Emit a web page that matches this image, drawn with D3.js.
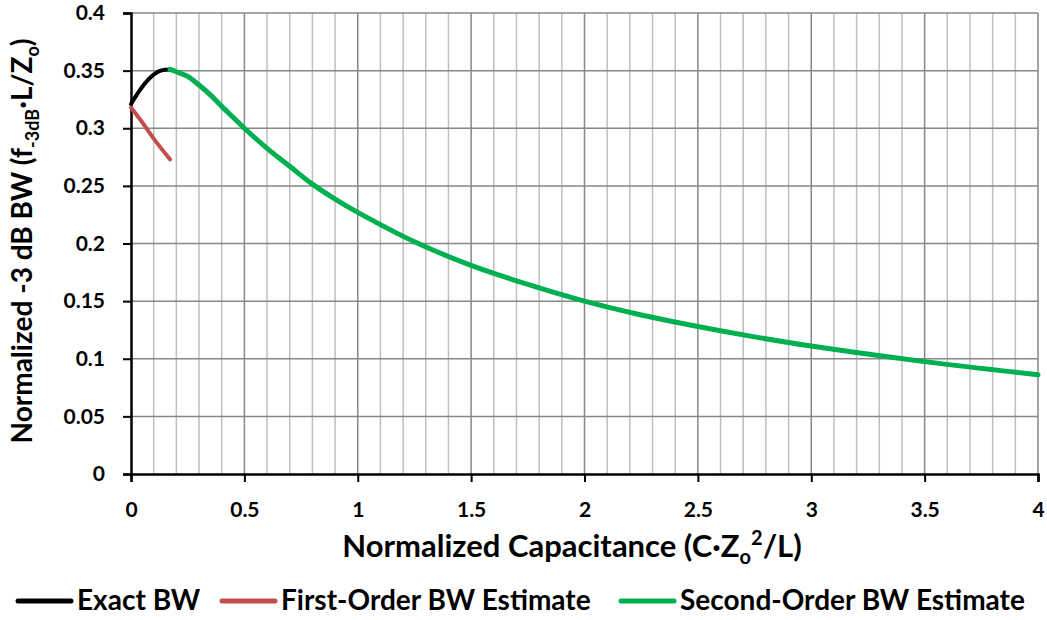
<!DOCTYPE html>
<html>
<head>
<meta charset="utf-8">
<script src="https://cdn.jsdelivr.net/npm/d3@7"></script>
<style>
  body { margin: 0; background: #fff; }
  svg { display: block; font-family: Lato, "Open Sans", sans-serif; font-weight: bold; }
</style>
</head>
<body>
<svg width="1047" height="620"></svg>
<script>
// values
const exactX = [0, 0.025, 0.05, 0.075, 0.1, 0.125, 0.15, 0.172];
const exactY = [0.321, 0.329, 0.336, 0.342, 0.3465, 0.3495, 0.3507, 0.351];

const firstX = [0, 0.05, 0.1, 0.172];
const firstY = [0.318, 0.305, 0.291, 0.273];

const secondX = [0.172, 0.2, 0.25, 0.3, 0.35, 0.4, 0.45, 0.5, 0.6, 0.7, 0.8, 0.9, 1.0, 1.25, 1.5, 1.75, 2.0, 2.25, 2.5, 2.75, 3.0, 3.5, 4.0];
const secondY = [0.351, 0.349, 0.345, 0.3375, 0.329, 0.319, 0.3095, 0.300, 0.2826, 0.267, 0.2515, 0.2385, 0.227, 0.2015, 0.181, 0.1645, 0.150, 0.138, 0.128, 0.119, 0.111, 0.0975, 0.0862];

const xTicks = [0, 0.5, 1, 1.5, 2, 2.5, 3, 3.5, 4];
const yTicks = [0, 0.05, 0.1, 0.15, 0.2, 0.25, 0.3, 0.35, 0.4];

const series = [
  {name: 'Exact BW', xs: exactX, ys: exactY, color: '#000000', width: 4},
  {name: 'First-Order BW Estimate', xs: firstX, ys: firstY, color: '#C0504D', width: 4},
  {name: 'Second-Order BW Estimate', xs: secondX, ys: secondY, color: '#00B050', width: 5},
];

const svg = d3.select('svg');
const plotL = 131, plotR = 1038, plotT = 13, plotB = 474;

const x = d3.scaleLinear().domain([0, 4]).range([plotL, plotR]);
const y = d3.scaleLinear().domain([0, 0.4]).range([plotB, plotT]);

// minor vertical grid every 0.1
const minor = d3.range(1, 40).map((i) => i / 10).filter((v) => Math.round(v * 10) % 5 !== 0);
svg.append('g')
  .selectAll('line')
  .data(minor)
  .enter()
  .append('line')
  .attr('x1', (d) => x(d)).attr('x2', (d) => x(d))
  .attr('y1', plotT).attr('y2', plotB)
  .style('stroke', '#BFBFBF')
  .style('stroke-width', 1.5);

// major grid
svg.append('g')
  .selectAll('line')
  .data(xTicks.slice(1))
  .enter()
  .append('line')
  .attr('x1', (d) => x(d)).attr('x2', (d) => x(d))
  .attr('y1', plotT).attr('y2', plotB)
  .style('stroke', '#878787')
  .style('stroke-width', 1.5);

svg.append('g')
  .selectAll('line')
  .data(yTicks.slice(1))
  .enter()
  .append('line')
  .attr('x1', plotL).attr('x2', plotR)
  .attr('y1', (d) => y(d)).attr('y2', (d) => y(d))
  .style('stroke', '#878787')
  .style('stroke-width', 1.5);

// axes
const xAxis = svg.append('g')
  .attr('transform', `translate(0,${plotB})`)
  .call(d3.axisBottom(x).tickValues(xTicks).tickSize(8).tickPadding(20).tickFormat(d3.format('')));
const yAxis = svg.append('g')
  .attr('transform', `translate(${plotL},0)`)
  .call(d3.axisLeft(y).tickValues(yTicks).tickSize(8).tickPadding(18).tickFormat(d3.format('')));

[xAxis, yAxis].forEach((a) => {
  a.select('.domain').style('stroke', '#000').style('stroke-width', 2.5);
  a.selectAll('.tick line').style('stroke', '#000').style('stroke-width', 2);
  a.selectAll('.tick text')
    .style('font-family', 'Lato, sans-serif')
    .style('font-weight', 'bold')
    .style('font-size', '21px')
    .style('fill', '#000');
});

// lines
const line = d3.line().curve(d3.curveCatmullRom.alpha(0.5));
series.forEach((s) => {
  const pts = s.xs.map((v, i) => [x(v), y(s.ys[i])]);
  svg.append('path')
    .attr('d', line(pts))
    .style('fill', 'none')
    .style('stroke', s.color)
    .style('stroke-width', s.width)
    .style('stroke-linecap', 'round');
});

// axis titles
const xt = svg.append('text')
  .attr('x', 572).attr('y', 557)
  .attr('text-anchor', 'middle')
  .style('font-size', '31px');
xt.append('tspan').text('Normalized Capacitance (C·Z');
xt.append('tspan').text('o').attr('dy', 7).style('font-size', '20px');
xt.append('tspan').text('2').attr('dy', -19).style('font-size', '20px');
xt.append('tspan').text('/L)').attr('dy', 12);

const yt = svg.append('text')
  .attr('transform', 'translate(32,241) rotate(-90)')
  .attr('text-anchor', 'middle')
  .style('font-size', '28px');
yt.append('tspan').text('Normalized -3 dB BW (f');
yt.append('tspan').text('-3dB').attr('dy', 7).style('font-size', '18px');
yt.append('tspan').text('·L/Z').attr('dy', -7);
yt.append('tspan').text('o').attr('dy', 7).style('font-size', '18px');
yt.append('tspan').text(')').attr('dy', -7);

// legend
const legendX = [18, 222, 621];
const legend = svg.append('g')
  .selectAll('g')
  .data(series)
  .enter()
  .append('g')
  .attr('transform', (d, i) => `translate(${legendX[i]},601)`);
legend.append('line')
  .attr('x1', 0).attr('x2', 53)
  .style('stroke', (d) => d.color)
  .style('stroke-width', 5)
  .style('stroke-linecap', 'round');
legend.append('text')
  .attr('x', 59).attr('y', 9)
  .style('font-size', '28px')
  .text((d) => d.name);
</script>
</body>
</html>
